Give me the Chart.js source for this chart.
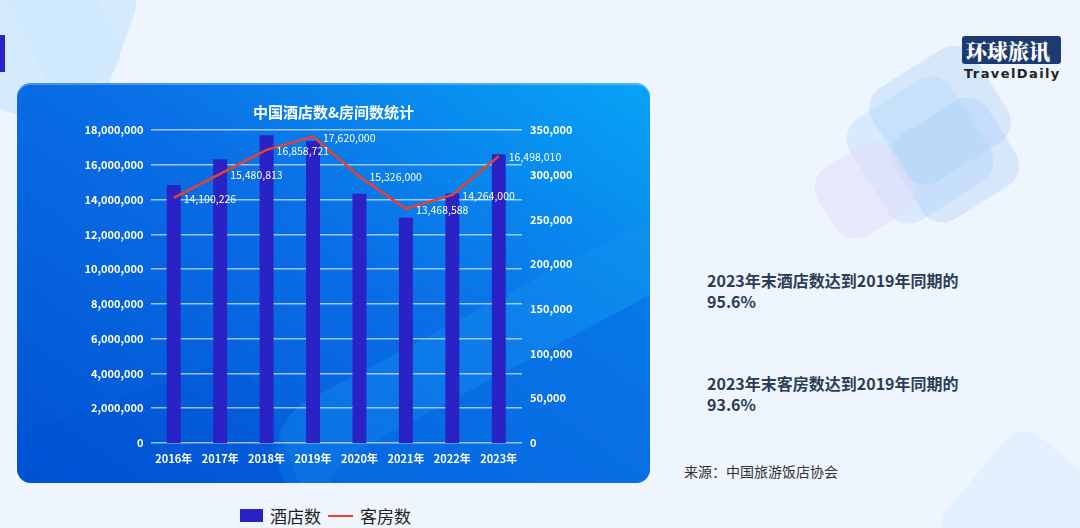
<!DOCTYPE html>
<html>
<head>
<meta charset="utf-8">
<script src="https://cdn.jsdelivr.net/npm/chart.js@4"></script>
<style>
  html, body { margin: 0; padding: 0; }
  body {
    width: 1080px; height: 528px; overflow: hidden; position: relative;
    background: #eef5fe;
    font-family: "Noto Sans CJK SC", "Noto Sans", sans-serif;
  }
  .deco { position: absolute; border-radius: 24px; }
  .panel {
    position: absolute; left: 17px; top: 83px; width: 633px; height: 400px;
    border-radius: 14px; overflow: hidden;
    background: linear-gradient(35deg, #0052d2 0%, #0a6fe6 55%, #07a4f6 100%);
    box-shadow: inset 0 2px 0 rgba(255,255,255,0.25);
  }
  .wave { position: absolute; border-radius: 60px; }
  .chartBox { position: absolute; left: 17px; top: 83px; width: 633px; height: 400px; }
  .marker { position: absolute; left: 0; top: 35px; width: 5px; height: 37px; background: #2a22c4; }
  .logo { position: absolute; left: 962px; top: 36px; }
  .logo .cn {
    background: #1d3a72; color: #fff; font-family: "Noto Serif CJK SC", "Noto Sans CJK SC", serif;
    font-weight: 900; font-size: 21px; line-height: 28px; padding: 0 4px; border-radius: 3px;
  }
  .logo .en { font: bold 13px "DejaVu Sans", sans-serif; color: #222; letter-spacing: 1.4px; margin-top: 2px; margin-left: 2px; }
  .note { position: absolute; left: 707px; color: #2b3d56; font-weight: bold; font-size: 16px; line-height: 21px; }
  .src { position: absolute; left: 684px; top: 461px; color: #333; font-size: 14px; }
  .legend { position: absolute; left: 240px; top: 503px; display: flex; align-items: center; font-size: 17px; color: #222; }
  .legend .box { width: 23px; height: 13px; background: #2a22c4; margin-right: 7px; }
  .legend .ln { width: 25px; height: 2px; background: #e8412f; margin: 0 7px; }
</style>
</head>
<body>
<div class="deco" style="left:-30px;top:-40px;width:150px;height:160px;background:rgba(190,225,252,0.55);transform:rotate(20deg);"></div>
<div class="deco" style="left:20px;top:-60px;width:80px;height:150px;background:rgba(205,232,252,0.5);transform:rotate(-25deg);"></div>
<div class="deco" style="left:880px;top:60px;width:120px;height:110px;background:rgba(185,215,250,0.45);transform:rotate(-32deg);"></div>
<div class="deco" style="left:860px;top:90px;width:120px;height:120px;background:rgba(175,215,250,0.35);transform:rotate(-32deg);"></div>
<div class="deco" style="left:900px;top:110px;width:110px;height:100px;background:rgba(160,200,245,0.3);transform:rotate(-32deg);"></div>
<div class="deco" style="left:820px;top:150px;width:90px;height:80px;background:rgba(225,220,250,0.5);transform:rotate(-32deg);"></div>
<div class="deco" style="left:960px;top:450px;width:140px;height:140px;background:rgba(215,235,252,0.5);transform:rotate(40deg);"></div>
<div class="marker"></div>

<div class="panel">
  <div class="wave" style="left:280px;top:210px;width:500px;height:300px;background:rgba(20,150,240,0.35);transform:rotate(-28deg);"></div>
  <div class="wave" style="left:330px;top:260px;width:500px;height:300px;background:rgba(0,90,220,0.35);transform:rotate(-28deg);"></div>
  <div class="wave" style="left:-120px;top:330px;width:400px;height:200px;background:rgba(0,80,210,0.25);transform:rotate(-20deg);"></div>
</div>
<div class="chartBox"><canvas id="hotelChart"></canvas></div>

<div class="logo"><div class="cn">环球旅讯</div><div class="en">TravelDaily</div></div>

<div class="note" style="top:270px;">2023年末酒店数达到2019年同期的<br>95.6%</div>
<div class="note" style="top:373px;">2023年末客房数达到2019年同期的<br>93.6%</div>
<div class="src">来源：中国旅游饭店协会</div>

<div class="legend"><span class="box"></span>酒店数<span class="ln"></span>客房数</div>

<script>
// ------------------------------------------------------------
// DATA
// ------------------------------------------------------------
const years = ["2016年", "2017年", "2018年", "2019年", "2020年", "2021年", "2022年", "2023年"];
const hotelCounts = [288500, 317200, 344000, 337700, 278800, 252000, 279000, 323000];
const roomCounts = [14100226, 15480813, 16858721, 17620000, 15326000, 13468588, 14264000, 16498010];

const roomAxisMax = 18000000;
const roomAxisStep = 2000000;
const hotelAxisMax = 350000;
const hotelAxisStep = 50000;

const fmt = v => Number(v).toLocaleString("en-US");
const tickFont = { family: "Noto Sans CJK SC", size: 11, weight: "bold" };

// ------------------------------------------------------------
// POINT LABELS
// ------------------------------------------------------------
const pointLabels = {
  id: "pointLabels",
  afterDatasetsDraw(chart) {
    const meta = chart.getDatasetMeta(1);
    const ctx = chart.ctx;
    ctx.save();
    ctx.fillStyle = "#ffffff";
    ctx.font = "10.5px 'Noto Sans CJK SC'";
    ctx.textAlign = "left";
    ctx.textBaseline = "middle";
    meta.data.forEach((pt, i) => {
      ctx.fillText(fmt(roomCounts[i]), pt.x + 10, pt.y + 1);
    });
    ctx.restore();
  }
};

new Chart(document.getElementById("hotelChart"), {
  data: {
    labels: years,
    datasets: [
      {
        type: "bar",
        label: "酒店数",
        data: hotelCounts,
        yAxisID: "y1",
        backgroundColor: "#2a22c4",
        barPercentage: 0.3,
        categoryPercentage: 1,
        order: 1
      },
      {
        type: "line",
        label: "客房数",
        data: roomCounts,
        yAxisID: "y",
        borderColor: "#e8412f",
        borderWidth: 2.5,
        pointRadius: 0,
        tension: 0,
        order: 0
      }
    ]
  },
  options: {
    responsive: true,
    maintainAspectRatio: false,
    animation: false,
    layout: { padding: { top: 16, left: 0, right: 0, bottom: 0 } },
    plugins: {
      legend: { display: false },
      tooltip: { enabled: false },
      title: {
        display: true,
        text: "中国酒店数&房间数统计",
        color: "#ffffff",
        font: { family: "Noto Sans CJK SC", size: 15, weight: "bold" },
        padding: { top: 4, bottom: 9 }
      }
    },
    scales: {
      x: {
        offset: true,
        grid: { display: false, drawTicks: false },
        border: { display: false },
        ticks: { color: "#ffffff", font: tickFont, padding: 9, maxRotation: 0 },
        afterFit: s => { s.height = 40; }
      },
      y: {
        position: "left",
        min: 0,
        max: roomAxisMax,
        grid: { color: "rgba(255,255,255,0.6)", lineWidth: 1.5, drawTicks: false },
        border: { display: false },
        ticks: { stepSize: roomAxisStep, color: "#ffffff", font: tickFont, padding: 7, callback: v => fmt(v) },
        afterFit: s => { s.width = 133.5; }
      },
      y1: {
        position: "right",
        min: 0,
        max: hotelAxisMax,
        grid: { display: false, drawTicks: false },
        border: { display: false },
        ticks: { stepSize: hotelAxisStep, color: "#ffffff", font: tickFont, padding: 8, callback: v => fmt(v) },
        afterFit: s => { s.width = 128; }
      }
    }
  },
  plugins: [pointLabels]
});
</script>
</body>
</html>
